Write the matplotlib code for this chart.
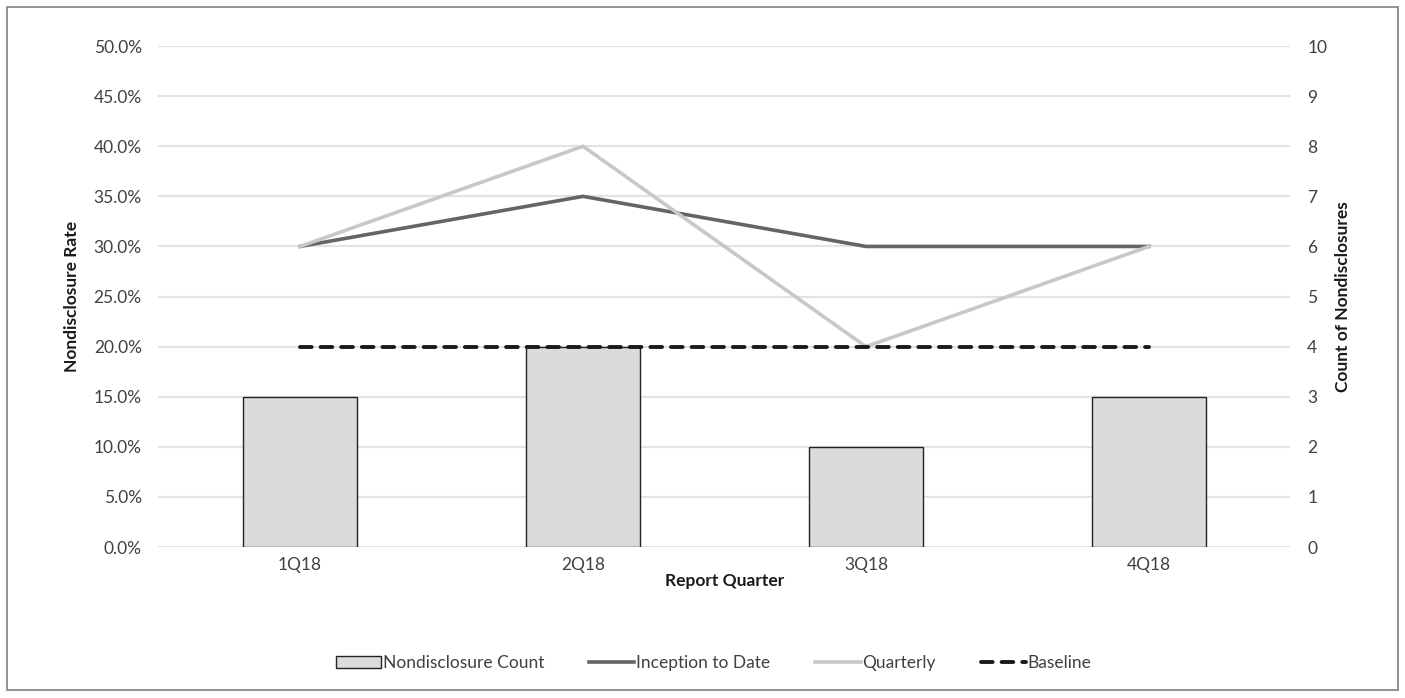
import matplotlib.pyplot as plt
from matplotlib.patches import Rectangle
from matplotlib.ticker import PercentFormatter

plt.rcParams['font.family'] = ['Lato', 'DejaVu Sans']

quarters = ["1Q18", "2Q18", "3Q18", "4Q18"]
counts = [3, 4, 2, 3]
inception = [30, 35, 30, 30]
quarterly = [30, 40, 20, 30]
baseline = [20, 20, 20, 20]

text_col = "#404040"
fig = plt.figure(figsize=(14.05, 6.98), dpi=100)
ax = fig.add_axes([0.1128, 0.2163, 0.8057, 0.7177])
ax2 = ax.twinx()

x = range(len(quarters))

# bars on the right axis, lines on the left axis drawn above
ax2.bar(x, counts, width=0.40, color="#dadbdc", edgecolor="#222222", linewidth=1,
        label="Nondisclosure Count", zorder=2)
ax2.set_ylim(0, 10)
ax2.set_yticks(range(0, 11))
ax2.grid(axis="y", color="#e3e3e3", linewidth=1.5)
ax2.set_axisbelow(True)

ax.set_zorder(ax2.get_zorder() + 1)
ax.patch.set_visible(False)
ax.plot(x, inception, color="#646464", linewidth=2.6, label="Inception to Date")
ax.plot(x, quarterly, color="#c8c8c8", linewidth=2.6, label="Quarterly")
ax.plot(x, baseline, color="#1a1a1a", linewidth=2.8, linestyle=(0, (3.0, 2.3)),
        dash_capstyle="round", label="Baseline")
ax.set_ylim(0, 50)
ax.set_yticks(range(0, 51, 5))
ax.yaxis.set_major_formatter(PercentFormatter(decimals=1))
ax.set_xlim(-0.5, 3.5)
ax.set_xticks(list(x))
ax.set_xticklabels(quarters)

for a in (ax, ax2):
    for s in a.spines.values():
        s.set_visible(False)
    a.tick_params(length=0, labelsize=12.5, colors=text_col, pad=12)
ax.tick_params(axis="x", pad=7)

ax.set_xlabel("Report Quarter", fontsize=12.5, fontweight="bold", color="#1a1a1a", labelpad=0)
ax.set_ylabel("Nondisclosure Rate", fontsize=12.5, fontweight="bold", color="#1a1a1a", labelpad=10)
ax2.set_ylabel("Count of Nondisclosures", fontsize=12.5, fontweight="bold", color="#1a1a1a", labelpad=6)

h1, l1 = ax2.get_legend_handles_labels()
h2, l2 = ax.get_legend_handles_labels()
fig.legend(h1 + h2, l1 + l2, loc="center", bbox_to_anchor=(0.508, 0.05), ncol=4,
           frameon=False, fontsize=12.5, handlelength=2.6, handletextpad=0.1,
           columnspacing=2.6, labelcolor=text_col)

fig.patches.append(Rectangle((0.005, 0.011), 0.99, 0.979, transform=fig.transFigure,
                             fill=False, edgecolor="#808080", linewidth=1.2))

fig.savefig("out.png", dpi=100)
